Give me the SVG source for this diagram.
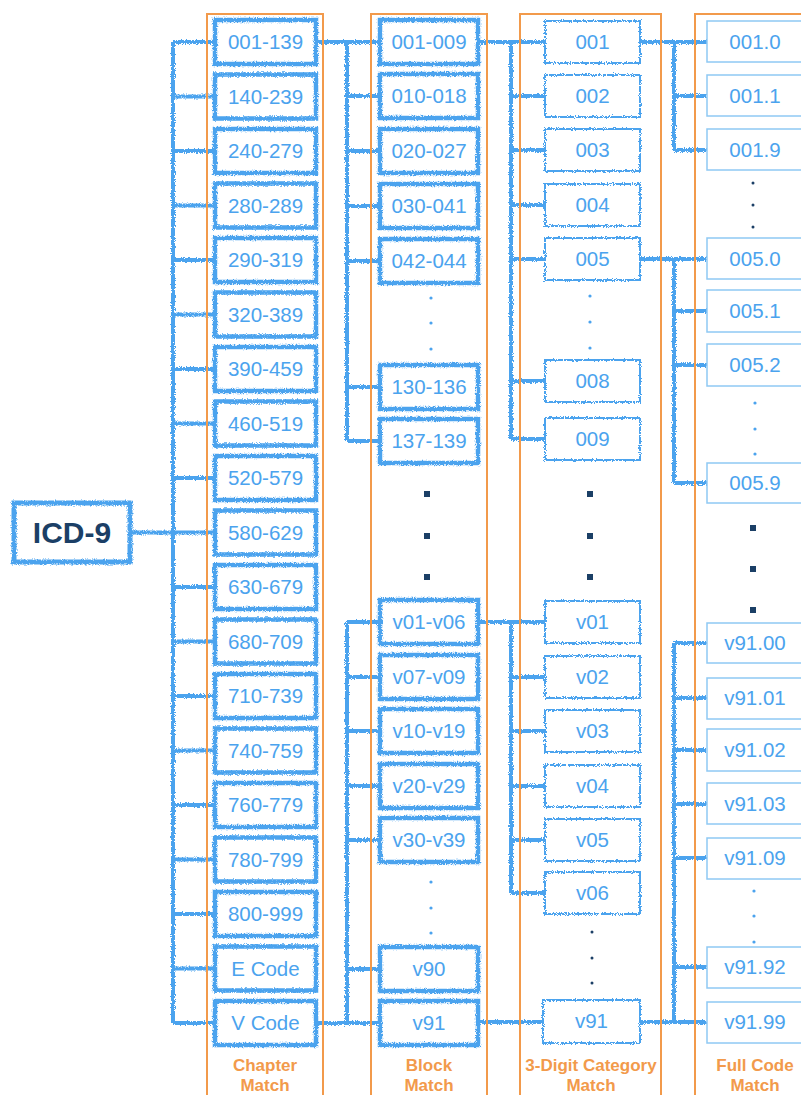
<svg xmlns="http://www.w3.org/2000/svg" width="801" height="1095" viewBox="0 0 801 1095">
<defs>
<filter id="rough" filterUnits="userSpaceOnUse" x="0" y="0" width="801" height="1095">
<feTurbulence type="fractalNoise" baseFrequency="1.1" numOctaves="2" seed="3" result="n"/>
<feDisplacementMap in="SourceGraphic" in2="n" scale="4" xChannelSelector="R" yChannelSelector="G"/>
</filter>
<style>
.col{fill:none;stroke:#F29A4B;stroke-width:2}
.thick{fill:#fff;stroke:#4BA3EE;stroke-width:4.5;filter:url(#rough)}
.mid{fill:#fff;stroke:#4BA3EE;stroke-width:2;filter:url(#rough)}
.thin{fill:#fff;stroke:#8FC9F4;stroke-width:1.5}
.t{font-family:"Liberation Sans",Arial,sans-serif;font-size:20.5px;fill:#4BA3EE;text-anchor:middle}
.lab{font-family:"Liberation Sans",Arial,sans-serif;font-size:17px;font-weight:bold;fill:#F29A4B;text-anchor:middle}
.conn{fill:none;stroke:#4BA3EE;stroke-width:4;filter:url(#rough)}
.sd{fill:#4BA3EE}
.nd{fill:#1B3F66}
</style>
</defs>
<rect width="801" height="1095" fill="#fff"/>

<g id="connectors" class="conn">
<path d="M130 532.5H173M173 42V1023M173 42H215M173 96.5H215M173 151H215M173 205.5H215M173 260H215M173 314.5H215M173 369H215M173 423.5H215M173 478H215M173 532.5H215M173 587H215M173 641.5H215M173 696H215M173 750.5H215M173 805H215M173 859.5H215M173 914H215M173 968.5H215M173 1023H215"/>
<path d="M316 42H380M347 42V441M347 96H380M347 151H380M347 206H380M347 261H380M347 387H380M347 441H380"/>
<path d="M316 1023H380M347 622V1023M347 622H380M347 677H380M347 731H380M347 786H380M347 840H380M347 969H380"/>
<path d="M478 42H545M511 42V439M511 96H545M511 150H545M511 205H545M511 259H545M511 381H545M511 439H545"/>
<path d="M478 622H545M511 622V893M511 677H545M511 731H545M511 786H545M511 840H545M511 893H545"/>
<path d="M478 1022H545"/>
<path d="M640 42H707M674 42V150M674 96H707M674 150H707"/>
<path d="M640 259H707M674 259V483M674 311H707M674 365H707M674 483H707"/>
<path d="M640 1022H707M674 643V1022M674 643H707M674 698H707M674 750H707M674 804H707M674 858H707M674 967H707"/>
</g>

<g id="columns">
<rect class="col" x="207" y="14" width="116" height="1100"/>
<rect class="col" x="371" y="14" width="116" height="1100"/>
<rect class="col" x="520" y="14" width="141" height="1100"/>
<rect class="col" x="695" y="14" width="130" height="1100"/>
</g>

<g id="icd9">
<rect class="thick" x="14" y="503" width="116" height="59" style="stroke-width:5"/>
<text x="72" y="543" style="font-family:'Liberation Sans',Arial,sans-serif;font-size:30px;font-weight:bold;fill:#1B3F66;text-anchor:middle">ICD-9</text>
</g>

<g id="chapter">
<g id="ch-001-139"><rect class="thick" x="215" y="20" width="101" height="44"/><text class="t" x="265.5" y="49">001-139</text></g>
<g id="ch-140-239"><rect class="thick" x="215" y="74.5" width="101" height="44"/><text class="t" x="265.5" y="103.5">140-239</text></g>
<g id="ch-240-279"><rect class="thick" x="215" y="129" width="101" height="44"/><text class="t" x="265.5" y="158">240-279</text></g>
<g id="ch-280-289"><rect class="thick" x="215" y="183.5" width="101" height="44"/><text class="t" x="265.5" y="212.5">280-289</text></g>
<g id="ch-290-319"><rect class="thick" x="215" y="238" width="101" height="44"/><text class="t" x="265.5" y="267">290-319</text></g>
<g id="ch-320-389"><rect class="thick" x="215" y="292.5" width="101" height="44"/><text class="t" x="265.5" y="321.5">320-389</text></g>
<g id="ch-390-459"><rect class="thick" x="215" y="347" width="101" height="44"/><text class="t" x="265.5" y="376">390-459</text></g>
<g id="ch-460-519"><rect class="thick" x="215" y="401.5" width="101" height="44"/><text class="t" x="265.5" y="430.5">460-519</text></g>
<g id="ch-520-579"><rect class="thick" x="215" y="456" width="101" height="44"/><text class="t" x="265.5" y="485">520-579</text></g>
<g id="ch-580-629"><rect class="thick" x="215" y="510.5" width="101" height="44"/><text class="t" x="265.5" y="539.5">580-629</text></g>
<g id="ch-630-679"><rect class="thick" x="215" y="565" width="101" height="44"/><text class="t" x="265.5" y="594">630-679</text></g>
<g id="ch-680-709"><rect class="thick" x="215" y="619.5" width="101" height="44"/><text class="t" x="265.5" y="648.5">680-709</text></g>
<g id="ch-710-739"><rect class="thick" x="215" y="674" width="101" height="44"/><text class="t" x="265.5" y="703">710-739</text></g>
<g id="ch-740-759"><rect class="thick" x="215" y="728.5" width="101" height="44"/><text class="t" x="265.5" y="757.5">740-759</text></g>
<g id="ch-760-779"><rect class="thick" x="215" y="783" width="101" height="44"/><text class="t" x="265.5" y="812">760-779</text></g>
<g id="ch-780-799"><rect class="thick" x="215" y="837.5" width="101" height="44"/><text class="t" x="265.5" y="866.5">780-799</text></g>
<g id="ch-800-999"><rect class="thick" x="215" y="892" width="101" height="44"/><text class="t" x="265.5" y="921">800-999</text></g>
<g id="ch-ecode"><rect class="thick" x="215" y="946.5" width="101" height="44"/><text class="t" x="265.5" y="975.5">E Code</text></g>
<g id="ch-vcode"><rect class="thick" x="215" y="1001" width="101" height="44"/><text class="t" x="265.5" y="1030">V Code</text></g>
</g>

<g id="block">
<g id="bl-001-009"><rect class="thick" x="380" y="20" width="98" height="44"/><text class="t" x="429" y="49">001-009</text></g>
<g id="bl-010-018"><rect class="thick" x="380" y="74" width="98" height="44"/><text class="t" x="429" y="103">010-018</text></g>
<g id="bl-020-027"><rect class="thick" x="380" y="129" width="98" height="44"/><text class="t" x="429" y="158">020-027</text></g>
<g id="bl-030-041"><rect class="thick" x="380" y="184" width="98" height="44"/><text class="t" x="429" y="213">030-041</text></g>
<g id="bl-042-044"><rect class="thick" x="380" y="239" width="98" height="44"/><text class="t" x="429" y="268">042-044</text></g>
<g id="bl-130-136"><rect class="thick" x="380" y="365" width="98" height="44"/><text class="t" x="429" y="394">130-136</text></g>
<g id="bl-137-139"><rect class="thick" x="380" y="419" width="98" height="44"/><text class="t" x="429" y="448">137-139</text></g>
<g id="bl-v01-v06"><rect class="thick" x="380" y="600" width="98" height="44"/><text class="t" x="429" y="629">v01-v06</text></g>
<g id="bl-v07-v09"><rect class="thick" x="380" y="655" width="98" height="44"/><text class="t" x="429" y="684">v07-v09</text></g>
<g id="bl-v10-v19"><rect class="thick" x="380" y="709" width="98" height="44"/><text class="t" x="429" y="738">v10-v19</text></g>
<g id="bl-v20-v29"><rect class="thick" x="380" y="764" width="98" height="44"/><text class="t" x="429" y="793">v20-v29</text></g>
<g id="bl-v30-v39"><rect class="thick" x="380" y="818" width="98" height="44"/><text class="t" x="429" y="847">v30-v39</text></g>
<g id="bl-v90"><rect class="thick" x="380" y="947" width="98" height="44"/><text class="t" x="429" y="976">v90</text></g>
<g id="bl-v91"><rect class="thick" x="380" y="1001" width="98" height="44"/><text class="t" x="429" y="1030">v91</text></g>
</g>

<g id="category">
<g id="c-001"><rect class="mid" x="545" y="21" width="95" height="42"/><text class="t" x="592.5" y="49">001</text></g>
<g id="c-002"><rect class="mid" x="545" y="75" width="95" height="42"/><text class="t" x="592.5" y="103">002</text></g>
<g id="c-003"><rect class="mid" x="545" y="129" width="95" height="42"/><text class="t" x="592.5" y="157">003</text></g>
<g id="c-004"><rect class="mid" x="545" y="184" width="95" height="42"/><text class="t" x="592.5" y="212">004</text></g>
<g id="c-005"><rect class="mid" x="545" y="238" width="95" height="42"/><text class="t" x="592.5" y="266">005</text></g>
<g id="c-008"><rect class="mid" x="545" y="360" width="95" height="42"/><text class="t" x="592.5" y="388">008</text></g>
<g id="c-009"><rect class="mid" x="545" y="418" width="95" height="42"/><text class="t" x="592.5" y="446">009</text></g>
<g id="c-v01"><rect class="mid" x="545" y="601" width="95" height="42"/><text class="t" x="592.5" y="629">v01</text></g>
<g id="c-v02"><rect class="mid" x="545" y="656" width="95" height="42"/><text class="t" x="592.5" y="684">v02</text></g>
<g id="c-v03"><rect class="mid" x="545" y="710" width="95" height="42"/><text class="t" x="592.5" y="738">v03</text></g>
<g id="c-v04"><rect class="mid" x="545" y="765" width="95" height="42"/><text class="t" x="592.5" y="793">v04</text></g>
<g id="c-v05"><rect class="mid" x="545" y="819" width="95" height="42"/><text class="t" x="592.5" y="847">v05</text></g>
<g id="c-v06"><rect class="mid" x="545" y="872" width="95" height="42"/><text class="t" x="592.5" y="900">v06</text></g>
<g id="c-v91"><rect class="mid" x="543" y="1000" width="97" height="43"/><text class="t" x="591.5" y="1028">v91</text></g>
</g>

<g id="fullcode">
<g id="f-001.0"><rect class="thin" x="707" y="21" width="110" height="41"/><text class="t" x="755" y="49">001.0</text></g>
<g id="f-001.1"><rect class="thin" x="707" y="75" width="110" height="41"/><text class="t" x="755" y="103">001.1</text></g>
<g id="f-001.9"><rect class="thin" x="707" y="129" width="110" height="41"/><text class="t" x="755" y="157">001.9</text></g>
<g id="f-005.0"><rect class="thin" x="707" y="238" width="110" height="41"/><text class="t" x="755" y="266">005.0</text></g>
<g id="f-005.1"><rect class="thin" x="707" y="290" width="110" height="42"/><text class="t" x="755" y="318">005.1</text></g>
<g id="f-005.2"><rect class="thin" x="707" y="344" width="110" height="42"/><text class="t" x="755" y="372">005.2</text></g>
<g id="f-005.9"><rect class="thin" x="707" y="463" width="110" height="40"/><text class="t" x="755" y="490">005.9</text></g>
<g id="f-v91.00"><rect class="thin" x="707" y="623" width="110" height="40"/><text class="t" x="755" y="650">v91.00</text></g>
<g id="f-v91.01"><rect class="thin" x="707" y="678" width="110" height="41"/><text class="t" x="755" y="705">v91.01</text></g>
<g id="f-v91.02"><rect class="thin" x="707" y="729" width="110" height="42"/><text class="t" x="755" y="757">v91.02</text></g>
<g id="f-v91.03"><rect class="thin" x="707" y="783" width="110" height="41"/><text class="t" x="755" y="811">v91.03</text></g>
<g id="f-v91.09"><rect class="thin" x="707" y="838" width="110" height="41"/><text class="t" x="755" y="865">v91.09</text></g>
<g id="f-v91.92"><rect class="thin" x="707" y="947" width="110" height="41"/><text class="t" x="755" y="974">v91.92</text></g>
<g id="f-v91.99"><rect class="thin" x="707" y="1002" width="110" height="41"/><text class="t" x="755" y="1029">v91.99</text></g>
</g>

<g id="ellipses">
<circle class="sd" cx="431" cy="298" r="1.6"/><circle class="sd" cx="431" cy="323" r="1.6"/><circle class="sd" cx="431" cy="349" r="1.6"/>
<circle class="sd" cx="590" cy="296" r="1.6"/><circle class="sd" cx="590" cy="322" r="1.6"/><circle class="sd" cx="590" cy="348" r="1.6"/>
<circle class="nd" cx="753" cy="183" r="1.5"/><circle class="nd" cx="753" cy="205" r="1.5"/><circle class="nd" cx="753" cy="227" r="1.5"/>
<circle class="sd" cx="755" cy="403" r="1.6"/><circle class="sd" cx="755" cy="429" r="1.6"/><circle class="sd" cx="755" cy="454" r="1.6"/>
<rect class="nd" x="424" y="491" width="6" height="6"/><rect class="nd" x="424" y="533" width="6" height="6"/><rect class="nd" x="424" y="574" width="6" height="6"/>
<rect class="nd" x="587" y="491" width="6" height="6"/><rect class="nd" x="587" y="533" width="6" height="6"/><rect class="nd" x="587" y="574" width="6" height="6"/>
<rect class="nd" x="750" y="525" width="6" height="6"/><rect class="nd" x="750" y="566" width="6" height="6"/><rect class="nd" x="750" y="607" width="6" height="6"/>
<circle class="sd" cx="431" cy="882" r="1.6"/><circle class="sd" cx="431" cy="908" r="1.6"/><circle class="sd" cx="431" cy="933" r="1.6"/>
<circle class="nd" cx="592" cy="932" r="1.5"/><circle class="nd" cx="592" cy="958" r="1.5"/><circle class="nd" cx="592" cy="983" r="1.5"/>
<circle class="sd" cx="754" cy="891" r="1.6"/><circle class="sd" cx="754" cy="916" r="1.6"/><circle class="sd" cx="754" cy="942" r="1.6"/>
</g>

<g id="labels">
<text class="lab" x="265" y="1071">Chapter</text><text class="lab" x="265" y="1091">Match</text>
<text class="lab" x="429" y="1071">Block</text><text class="lab" x="429" y="1091">Match</text>
<text class="lab" x="591" y="1071">3-Digit Category</text><text class="lab" x="591" y="1091">Match</text>
<text class="lab" x="755" y="1071">Full Code</text><text class="lab" x="755" y="1091">Match</text>
</g>
</svg>
